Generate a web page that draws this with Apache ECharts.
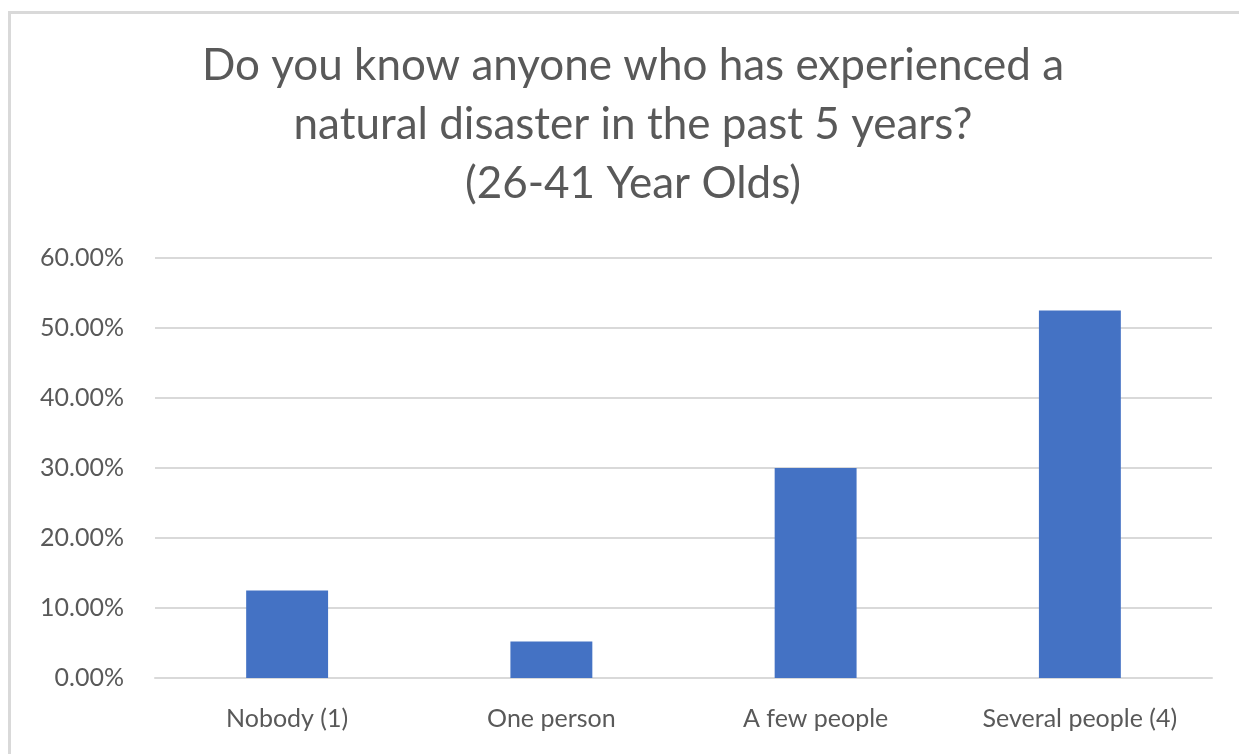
<!DOCTYPE html>
<html>
<head>
<meta charset="utf-8">
<script src="https://cdn.jsdelivr.net/npm/echarts@6/dist/echarts.min.js"></script>
<style>
html,body{margin:0;padding:0;background:#fff;}
#chart{width:1239px;height:754px;}
</style>
</head>
<body>
<div id="chart"></div>
<script>
const titleLines = ['Do you know anyone who has experienced a', 'natural disaster in the past 5 years?', '(26-41 Year Olds)'];
const categories = ['Nobody (1)', 'One person', 'A few people', 'Several people (4)'];
const values = [12.5, 5.2, 30.0, 52.5];
const yMin = 0, yMax = 60, yStep = 10;

const chart = echarts.init(document.getElementById('chart'), null, {renderer: 'canvas'});
chart.setOption({
  backgroundColor: '#ffffff',
  animation: false,
  graphic: [{
    type: 'rect', left: 7, top: 10, z: -10,
    shape: {width: 1300, height: 800},
    style: {fill: 'none', stroke: '#d9d9d9', lineWidth: 3}
  }],
  title: {
    text: titleLines.join('\n'),
    left: 628, top: 31, textAlign: 'center',
    textStyle: {fontFamily: 'Lato', fontSize: 44, fontWeight: 'normal', color: '#595959', lineHeight: 59}
  },
  grid: {left: 155, right: 27, top: 258, bottom: 76, containLabel: false},
  xAxis: {
    type: 'category', data: categories,
    axisLine: {show: true, lineStyle: {color: '#d9d9d9', width: 2}},
    axisTick: {show: false},
    axisLabel: {fontFamily: 'Lato', fontSize: 25, color: '#595959', margin: 28}
  },
  yAxis: {
    type: 'value', min: yMin, max: yMax, interval: yStep,
    axisLine: {show: false}, axisTick: {show: false},
    splitLine: {lineStyle: {color: '#d9d9d9', width: 2}},
    axisLabel: {fontFamily: 'Lato', fontSize: 25, color: '#595959', margin: 31,
      formatter: v => v.toFixed(2) + '%'}
  },
  series: [{
    type: 'bar', data: values, barWidth: '31%',
    itemStyle: {color: '#4472c4'}
  }]
});
</script>
</body>
</html>
